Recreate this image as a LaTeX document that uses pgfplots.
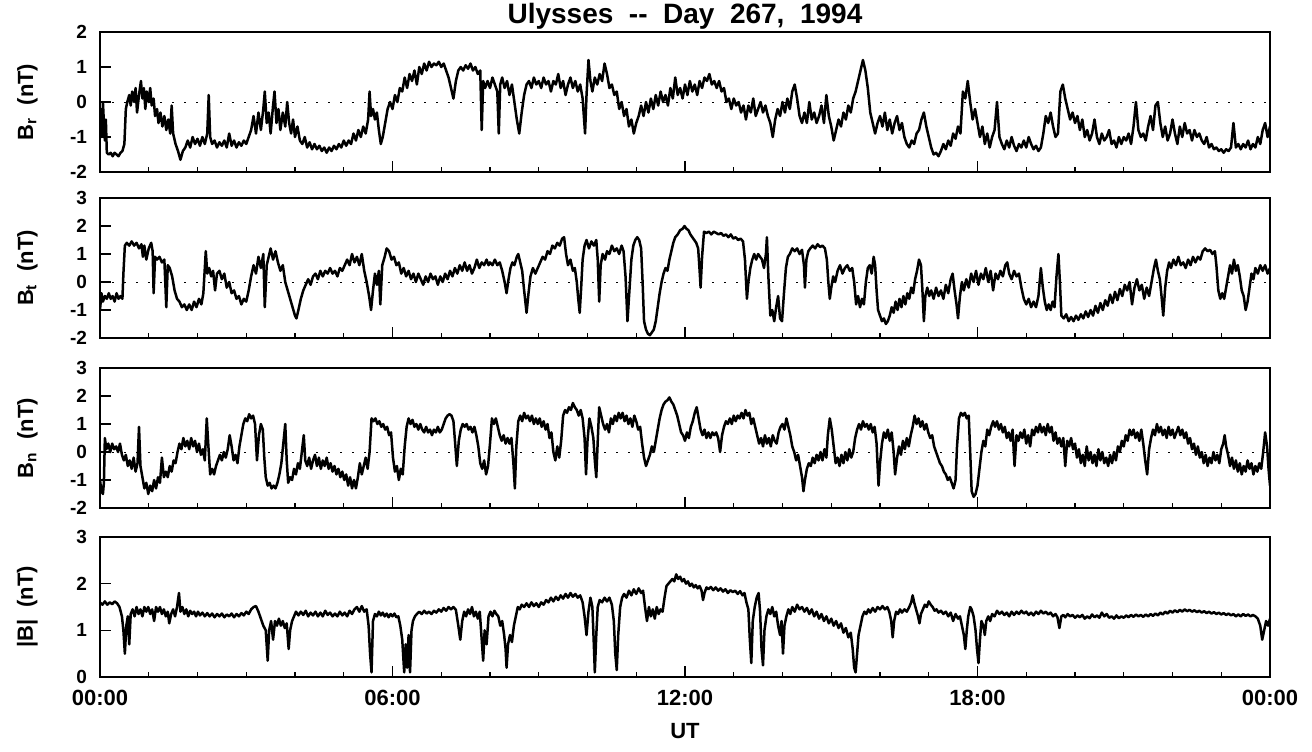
\documentclass[border=0pt]{standalone}
\usepackage{fontspec}
\setmainfont{Liberation Sans}
\usepackage{pgfplots}
\pgfplotsset{compat=1.18}

\pgfplotsset{
  panel/.style={
    scale only axis, width=585pt, height=70pt,
    xmin=0, xmax=24, xtick={0,6,12,18,24}, minor x tick num=5,
    xticklabels={}, tick align=inside, xtick pos=left, ytick pos=left,
    major tick length=5.5pt, minor tick length=2.5pt,
    axis line style={line width=1pt},
    every tick/.style={black, line width=0.7pt},
    y tick label style={font=\fontsize{9.5}{10}\selectfont\bfseries, xshift=-3pt},
    x tick label style={font=\fontsize{11}{12}\selectfont\bfseries, yshift=-3pt},
    y label style={at={(axis description cs:-0.062,0.5)}, anchor=center,
      font=\fontsize{11}{12}\selectfont\bfseries},
    clip=true,
  },
  trace/.style={black, line width=1.25pt, line join=round},
  zero/.style={black, line width=0.5pt, dash pattern=on 1.2pt off 4.8pt},
}

\begin{document}
\begin{tikzpicture}
\useasboundingbox (-50pt,16pt) rectangle (606pt,-359.5pt);

% ---- B_r ----
\begin{axis}[panel, at={(0,0)}, anchor=north west,
  ymin=-2, ymax=2, ytick={-2,-1,0,1,2}, yticklabels={-2,-1,0,1,2},
  ylabel={B\textsubscript{r}\ \ (nT)},
  title={Ulysses\ \ -{}-\ \ Day\ \ 267,\ \ 1994},
  title style={font=\fontsize{14}{15}\selectfont\bfseries, yshift=-8pt}]
\addplot[zero] coordinates {(0,0)(24,0)};
\addplot[trace] coordinates {
(0.00,-0.7)(0.02,-0.2)(0.04,-1.0)(0.06,0.0)(0.08,-0.6)(0.10,-1.1)(0.12,-0.5)(0.14,-1.45)(0.18,-1.5)(0.22,-1.45)
(0.26,-1.55)(0.30,-1.45)(0.34,-1.5)(0.38,-1.55)(0.42,-1.45)(0.46,-1.4)(0.50,-1.2)(0.53,-0.2)(0.56,0.0)(0.60,0.2)
(0.63,-0.1)(0.66,0.3)(0.70,0.0)(0.73,0.4)(0.76,-0.3)(0.80,0.2)(0.84,0.6)(0.87,0.1)(0.90,0.4)(0.93,-0.2)
(0.96,0.3)(1.00,0.0)(1.03,0.4)(1.06,-0.1)(1.10,0.1)(1.13,-0.4)(1.17,-0.2)(1.20,-0.6)(1.24,-0.3)(1.28,-0.7)
(1.32,-0.4)(1.36,-0.8)(1.40,-0.5)(1.44,-0.9)(1.47,-0.1)(1.50,-0.9)(1.55,-1.2)(1.60,-1.4)(1.65,-1.65)(1.70,-1.4)
(1.75,-1.3)(1.80,-1.1)(1.85,-1.3)(1.90,-1.0)(1.95,-1.2)(2.00,-1.05)(2.05,-1.25)(2.10,-1.0)(2.15,-1.2)(2.20,-0.9)
(2.23,0.2)(2.26,-1.0)(2.30,-1.2)(2.35,-1.1)(2.40,-1.3)(2.45,-1.15)(2.50,-1.25)(2.55,-1.1)(2.60,-1.3)(2.65,-0.9)
(2.70,-1.25)(2.75,-1.1)(2.80,-1.3)(2.85,-1.15)(2.90,-1.25)(2.95,-1.1)(3.00,-1.2)(3.05,-1.0)(3.10,-0.8)(3.15,-0.4)
(3.20,-0.9)(3.25,-0.3)(3.30,-0.8)(3.35,-0.2)(3.38,0.3)(3.42,-0.6)(3.46,-0.3)(3.50,-0.9)(3.55,-0.1)(3.58,0.3)
(3.62,-0.6)(3.66,-0.2)(3.70,-0.8)(3.75,-0.3)(3.80,-0.7)(3.84,0.0)(3.88,-0.6)(3.92,-0.9)(3.96,-0.5)(4.00,-1.0)
(4.05,-0.7)(4.10,-1.1)(4.15,-1.2)(4.20,-1.0)(4.25,-1.3)(4.30,-1.15)(4.35,-1.35)(4.40,-1.2)(4.45,-1.35)(4.50,-1.25)
(4.55,-1.4)(4.60,-1.3)(4.65,-1.45)(4.70,-1.3)(4.75,-1.4)(4.80,-1.25)(4.85,-1.35)(4.90,-1.2)(4.95,-1.3)(5.00,-1.1)
(5.05,-1.25)(5.10,-1.1)(5.15,-1.2)(5.20,-0.9)(5.25,-1.1)(5.30,-0.8)(5.35,-1.0)(5.40,-0.7)(5.45,-0.9)(5.50,-0.5)
(5.53,0.3)(5.56,-0.4)(5.60,-0.2)(5.64,-0.5)(5.68,-0.3)(5.72,-0.8)(5.76,-1.2)(5.80,-1.0)(5.85,-0.6)(5.90,-0.2)
(5.95,0.0)(6.00,-0.2)(6.05,0.2)(6.10,0.0)(6.15,0.4)(6.20,0.3)(6.25,0.7)(6.30,0.4)(6.35,0.8)(6.40,0.6)
(6.45,0.9)(6.50,0.5)(6.55,1.0)(6.60,0.8)(6.65,1.1)(6.70,0.9)(6.75,1.15)(6.80,1.0)(6.85,1.1)(6.90,1.05)
(6.95,1.15)(7.00,1.0)(7.05,1.1)(7.10,0.9)(7.15,0.7)(7.20,0.4)(7.25,0.1)(7.30,0.6)(7.35,0.9)(7.40,1.0)
(7.45,0.9)(7.50,1.05)(7.55,0.95)(7.60,1.1)(7.65,0.9)(7.70,1.0)(7.75,0.8)(7.80,0.9)(7.83,-0.8)(7.86,0.6)
(7.90,0.4)(7.95,0.6)(8.00,0.4)(8.05,0.7)(8.10,0.5)(8.15,0.3)(8.18,-0.9)(8.21,0.5)(8.25,0.7)(8.30,0.4)
(8.35,0.6)(8.40,0.2)(8.45,0.5)(8.50,0.0)(8.55,-0.5)(8.60,-0.9)(8.65,-0.3)(8.70,0.2)(8.75,0.5)(8.80,0.6)
(8.85,0.4)(8.90,0.7)(8.95,0.5)(9.00,0.6)(9.05,0.4)(9.10,0.7)(9.15,0.5)(9.20,0.6)(9.25,0.3)(9.30,0.6)
(9.35,0.5)(9.40,0.8)(9.45,0.4)(9.50,0.6)(9.55,0.2)(9.60,0.5)(9.65,0.7)(9.70,0.4)(9.75,0.6)(9.80,0.3)
(9.85,0.5)(9.90,0.1)(9.95,-0.9)(9.98,0.2)(10.02,1.2)(10.06,0.6)(10.10,0.3)(10.15,0.7)(10.20,0.5)(10.25,0.8)
(10.30,0.6)(10.35,1.1)(10.40,0.8)(10.45,0.4)(10.50,0.5)(10.55,0.2)(10.60,0.3)(10.65,-0.2)(10.70,0.0)(10.75,-0.4)
(10.80,-0.2)(10.85,-0.7)(10.90,-0.5)(10.95,-0.9)(11.00,-0.6)(11.05,-0.4)(11.10,-0.1)(11.15,-0.4)(11.20,0.0)(11.25,-0.3)
(11.30,0.1)(11.35,-0.2)(11.40,0.2)(11.45,-0.1)(11.50,0.3)(11.55,0.0)(11.60,0.2)(11.65,-0.1)(11.70,0.4)(11.75,0.1)
(11.80,0.7)(11.85,0.2)(11.90,0.4)(11.95,0.1)(12.00,0.5)(12.05,0.2)(12.10,0.6)(12.15,0.3)(12.20,0.5)(12.25,0.2)
(12.30,0.6)(12.35,0.4)(12.40,0.7)(12.45,0.6)(12.50,0.8)(12.55,0.5)(12.60,0.6)(12.65,0.4)(12.70,0.6)(12.75,0.3)
(12.80,0.4)(12.85,0.0)(12.90,0.1)(12.95,-0.2)(13.00,0.1)(13.05,-0.1)(13.10,0.0)(13.15,-0.3)(13.20,-0.1)(13.25,-0.5)
(13.30,-0.1)(13.35,-0.3)(13.40,0.1)(13.45,-0.4)(13.50,-0.2)(13.55,0.0)(13.60,-0.3)(13.65,-0.1)(13.70,-0.4)(13.75,-0.6)
(13.80,-1.0)(13.85,-0.5)(13.90,-0.2)(13.95,-0.4)(14.00,0.0)(14.05,-0.3)(14.10,0.1)(14.15,-0.2)(14.20,0.3)(14.25,0.5)
(14.30,0.1)(14.35,-0.4)(14.40,-0.6)(14.45,-0.3)(14.50,-0.6)(14.55,0.0)(14.60,-0.5)(14.65,-0.3)(14.70,-0.6)(14.75,-0.4)
(14.80,-0.1)(14.85,-0.6)(14.90,0.2)(14.95,-0.4)(15.00,-0.7)(15.05,-1.1)(15.10,-0.8)(15.15,-0.5)(15.20,-0.7)(15.25,-0.3)
(15.30,-0.5)(15.35,-0.1)(15.40,-0.3)(15.45,0.1)(15.50,0.3)(15.55,0.6)(15.60,0.9)(15.65,1.2)(15.70,0.9)(15.75,0.4)
(15.80,-0.3)(15.85,-0.6)(15.90,-0.9)(15.95,-0.6)(16.00,-0.4)(16.05,-0.7)(16.10,-0.3)(16.15,-0.8)(16.20,-0.5)(16.25,-0.9)
(16.30,-0.6)(16.35,-0.4)(16.40,-0.8)(16.45,-0.6)(16.50,-1.0)(16.55,-1.2)(16.60,-1.3)(16.65,-1.1)(16.70,-1.2)(16.75,-0.9)
(16.80,-0.8)(16.85,-0.5)(16.90,-0.3)(16.95,-0.7)(17.00,-1.0)(17.05,-1.3)(17.10,-1.5)(17.15,-1.45)(17.20,-1.55)(17.25,-1.4)
(17.30,-1.2)(17.35,-1.35)(17.40,-1.1)(17.45,-1.25)(17.50,-0.9)(17.55,-1.05)(17.60,-0.7)(17.65,-0.9)(17.70,0.3)(17.75,0.1)
(17.80,0.6)(17.85,0.0)(17.90,-0.5)(17.95,-0.2)(18.00,-0.6)(18.05,-1.0)(18.10,-0.7)(18.15,-1.2)(18.20,-0.9)(18.25,-1.3)
(18.30,-1.0)(18.35,-0.8)(18.40,0.0)(18.45,-1.0)(18.50,-1.2)(18.55,-1.35)(18.60,-1.1)(18.65,-1.3)(18.70,-1.0)(18.75,-1.25)
(18.80,-1.4)(18.85,-1.2)(18.90,-1.3)(18.95,-1.1)(19.00,-1.3)(19.05,-1.0)(19.10,-1.2)(19.15,-1.35)(19.20,-1.25)(19.25,-1.4)
(19.30,-1.3)(19.35,-0.9)(19.40,-0.4)(19.45,-0.6)(19.50,-0.3)(19.55,-0.7)(19.60,-1.0)(19.65,-0.9)(19.70,0.3)(19.75,0.5)
(19.80,0.1)(19.85,-0.2)(19.90,-0.5)(19.95,-0.3)(20.00,-0.6)(20.05,-0.4)(20.10,-0.8)(20.15,-0.5)(20.20,-1.0)(20.25,-0.8)
(20.30,-1.1)(20.35,-0.9)(20.40,-0.5)(20.45,-1.0)(20.50,-1.2)(20.55,-0.9)(20.60,-1.1)(20.65,-1.0)(20.70,-0.8)(20.75,-1.2)
(20.80,-1.1)(20.85,-1.3)(20.90,-1.0)(20.95,-1.2)(21.00,-1.0)(21.05,-1.1)(21.10,-0.9)(21.15,-1.2)(21.20,-0.7)(21.25,0.0)
(21.30,-0.8)(21.35,-1.0)(21.40,-0.9)(21.45,-1.1)(21.50,-0.7)(21.55,-0.4)(21.60,-0.8)(21.65,-0.1)(21.70,0.0)(21.75,-0.6)
(21.80,-1.0)(21.85,-0.7)(21.90,-1.1)(21.95,-0.9)(22.00,-0.5)(22.05,-0.9)(22.10,-1.2)(22.15,-0.7)(22.20,-1.0)(22.25,-0.6)
(22.30,-0.9)(22.35,-0.8)(22.40,-1.1)(22.45,-0.8)(22.50,-1.0)(22.55,-0.9)(22.60,-1.1)(22.65,-1.2)(22.70,-1.0)(22.75,-1.3)
(22.80,-1.2)(22.85,-1.35)(22.90,-1.3)(22.95,-1.4)(23.00,-1.35)(23.05,-1.45)(23.10,-1.35)(23.15,-1.4)(23.20,-1.3)(23.25,-0.6)
(23.30,-1.3)(23.35,-1.2)(23.40,-1.35)(23.45,-1.2)(23.50,-1.3)(23.55,-1.1)(23.60,-1.35)(23.65,-1.2)(23.70,-1.3)(23.75,-1.0)
(23.80,-1.2)(23.85,-0.8)(23.90,-0.6)(23.95,-1.0)(24.00,-0.7)
};
\end{axis}

% ---- B_t ----
\begin{axis}[panel, at={(0,-83pt)}, anchor=north west,
  ymin=-2, ymax=3, ytick={-2,-1,0,1,2,3}, yticklabels={-2,-1,0,1,2,3},
  ylabel={B\textsubscript{t}\ \ (nT)}]
\addplot[zero] coordinates {(0,0)(24,0)};
\addplot[trace] coordinates {
(0.00,-1.0)(0.03,-0.4)(0.06,-0.7)(0.10,-0.5)(0.14,-0.6)(0.18,-0.4)(0.22,-0.6)(0.26,-0.5)(0.30,-0.7)(0.34,-0.4)
(0.38,-0.6)(0.42,-0.5)(0.46,-0.6)(0.48,0.3)(0.51,1.3)(0.55,1.4)(0.60,1.3)(0.65,1.45)(0.70,1.3)(0.75,1.4)
(0.80,1.2)(0.85,1.35)(0.88,0.9)(0.91,1.3)(0.95,0.8)(1.00,1.2)(1.05,1.4)(1.08,1.1)(1.10,-0.4)(1.13,0.9)
(1.17,0.8)(1.22,0.9)(1.27,0.7)(1.32,0.8)(1.36,-0.9)(1.39,0.6)(1.43,0.5)(1.48,0.2)(1.53,-0.3)(1.58,-0.6)
(1.63,-0.7)(1.68,-0.9)(1.73,-0.8)(1.78,-1.0)(1.83,-0.8)(1.88,-1.0)(1.93,-0.7)(1.98,-0.9)(2.03,-0.6)(2.08,-0.8)
(2.12,-0.4)(2.17,1.1)(2.20,0.3)(2.24,0.5)(2.28,0.2)(2.32,0.4)(2.36,-0.3)(2.40,0.3)(2.45,0.4)(2.50,0.1)
(2.55,0.3)(2.60,-0.2)(2.65,0.0)(2.70,-0.4)(2.75,-0.3)(2.80,-0.6)(2.85,-0.5)(2.90,-0.8)(2.95,-0.6)(3.00,-0.7)
(3.05,-0.3)(3.10,0.2)(3.15,0.6)(3.20,0.3)(3.25,0.9)(3.30,0.5)(3.35,1.0)(3.38,-0.9)(3.42,0.6)(3.46,0.9)
(3.50,1.2)(3.55,0.8)(3.60,1.1)(3.65,0.7)(3.70,0.4)(3.75,0.6)(3.80,0.0)(3.85,-0.3)(3.90,-0.6)(3.95,-0.9)
(4.00,-1.2)(4.03,-1.3)(4.07,-1.0)(4.12,-0.6)(4.17,-0.3)(4.22,-0.1)(4.27,0.1)(4.32,-0.1)(4.37,0.2)(4.42,0.3)
(4.47,0.1)(4.52,0.4)(4.57,0.2)(4.62,0.4)(4.67,0.3)(4.72,0.5)(4.77,0.3)(4.82,0.4)(4.87,0.2)(4.92,0.5)
(4.97,0.4)(5.02,0.6)(5.07,0.8)(5.12,0.6)(5.17,1.0)(5.22,0.7)(5.27,0.9)(5.32,0.6)(5.37,1.0)(5.42,0.4)
(5.47,0.0)(5.52,-0.5)(5.56,-1.0)(5.60,-0.3)(5.64,0.3)(5.68,-0.1)(5.72,0.4)(5.75,-0.8)(5.79,0.6)(5.84,0.9)
(5.88,1.2)(5.93,1.1)(5.98,0.8)(6.03,0.9)(6.08,0.6)(6.13,0.7)(6.18,0.3)(6.23,0.5)(6.28,0.2)(6.33,0.4)
(6.38,0.1)(6.43,0.3)(6.48,0.0)(6.53,0.3)(6.58,0.1)(6.63,-0.1)(6.68,0.2)(6.73,0.0)(6.78,0.3)(6.83,0.1)
(6.88,0.2)(6.93,-0.1)(6.98,0.2)(7.03,0.0)(7.08,0.3)(7.13,0.1)(7.18,0.4)(7.23,0.2)(7.28,0.5)(7.33,0.3)
(7.38,0.6)(7.43,0.4)(7.48,0.7)(7.53,0.4)(7.58,0.6)(7.63,0.3)(7.68,0.5)(7.73,0.8)(7.78,0.5)(7.83,0.7)
(7.88,0.6)(7.93,0.8)(7.97,0.6)
(8.00,0.7)(8.05,0.6)(8.10,0.8)(8.15,0.6)(8.20,0.7)(8.25,0.4)(8.30,0.0)(8.34,-0.4)(8.38,0.1)(8.42,0.5)
(8.46,0.7)(8.50,0.6)(8.55,0.9)(8.58,1.0)(8.62,0.7)(8.66,0.4)(8.70,-0.3)(8.75,-1.1)(8.79,-0.4)(8.83,0.2)
(8.88,0.5)(8.93,0.3)(8.98,0.5)(9.03,0.7)(9.08,0.9)(9.13,0.8)(9.18,1.1)(9.23,1.0)(9.28,1.3)(9.33,1.2)
(9.38,1.4)(9.43,1.3)(9.48,1.55)(9.52,1.6)(9.56,1.0)(9.60,0.6)(9.65,0.8)(9.70,0.4)(9.74,0.5)(9.78,0.0)
(9.81,-0.6)(9.84,-1.1)(9.87,-0.2)(9.90,0.8)(9.94,1.3)(9.98,1.5)(10.03,1.2)(10.08,1.45)(10.13,1.3)(10.18,1.5)
(10.21,0.8)(10.24,-0.7)(10.27,0.6)(10.31,1.0)(10.36,0.8)(10.40,1.1)(10.45,1.0)(10.50,1.3)(10.55,1.1)(10.60,1.2)
(10.65,1.0)(10.70,1.3)(10.74,1.1)(10.78,0.2)(10.82,-1.4)(10.86,-0.3)(10.90,0.8)(10.94,1.3)(10.98,1.5)(11.02,1.6)
(11.06,1.5)(11.10,1.2)(11.13,0.0)(11.16,-1.4)(11.20,-1.7)(11.24,-1.85)(11.28,-1.9)(11.32,-1.8)(11.36,-1.7)(11.40,-1.4)
(11.44,-0.9)(11.48,-0.4)(11.52,0.0)(11.56,0.3)(11.60,0.5)(11.64,0.4)(11.68,0.8)(11.72,1.1)(11.76,1.4)(11.80,1.6)
(11.85,1.7)(11.90,1.85)(11.95,1.9)(11.99,2.0)(12.03,1.9)(12.07,1.85)(12.11,1.7)(12.15,1.6)(12.19,1.5)(12.23,1.4)
(12.27,1.2)(12.30,0.4)(12.32,-0.2)(12.35,0.9)(12.39,1.8)(12.44,1.75)(12.49,1.8)(12.54,1.7)(12.59,1.8)(12.64,1.75)
(12.69,1.7)(12.74,1.75)(12.79,1.65)(12.84,1.7)(12.89,1.6)(12.94,1.7)(12.99,1.55)(13.04,1.6)(13.09,1.5)(13.14,1.55)
(13.19,1.45)(13.23,0.8)(13.27,-0.6)(13.30,0.0)(13.34,0.5)(13.38,0.8)(13.42,1.0)(13.46,0.8)(13.50,1.0)(13.54,0.9)
(13.58,0.8)(13.62,0.5)(13.66,1.0)(13.68,1.6)(13.71,0.2)(13.75,-1.2)(13.79,-1.0)(13.83,-1.4)(13.87,-0.9)(13.91,-0.5)
(13.95,-1.3)(13.99,-1.4)(14.03,-0.4)(14.07,0.5)(14.11,0.9)(14.15,1.0)(14.20,1.2)(14.25,1.1)(14.30,1.2)(14.35,1.0)
(14.40,1.15)(14.44,0.6)(14.46,-0.2)(14.49,0.8)(14.53,1.1)(14.57,1.2)(14.62,1.3)(14.67,1.2)(14.72,1.35)(14.77,1.25)
(14.82,1.3)(14.87,1.2)(14.91,0.8)(14.94,0.0)(14.97,-0.6)(15.00,-0.2)(15.04,0.2)(15.08,0.0)(15.13,0.4)(15.18,0.6)
(15.23,0.3)(15.28,0.5)(15.33,0.6)(15.38,0.4)(15.43,0.5)(15.47,0.0)(15.51,-0.8)(15.55,-0.5)(15.59,-0.9)(15.63,-0.6)
(15.67,-0.8)(15.71,0.0)(15.75,0.5)(15.79,0.6)(15.83,0.3)(15.87,0.9)(15.90,0.6)(15.93,-0.3)(15.96,-1.0)(16.00,-1.2)
(16.04,-1.4)(16.08,-1.3)(16.12,-1.5)(16.16,-1.4)(16.20,-1.2)(16.24,-0.9)(16.28,-1.1)(16.32,-0.7)(16.36,-1.0)(16.40,-0.6)
(16.44,-0.9)(16.48,-0.5)(16.52,-0.8)(16.56,-0.4)(16.60,-0.6)(16.64,-0.2)(16.68,-0.4)(16.72,0.1)(16.76,0.4)(16.80,0.8)
(16.84,0.6)(16.87,-0.3)(16.90,-1.4)(16.93,-0.5)(16.97,-0.2)(17.01,-0.5)(17.05,-0.3)(17.10,-0.6)(17.15,-0.2)(17.20,-0.5)
(17.25,-0.3)(17.30,-0.6)(17.35,-0.1)(17.40,-0.4)(17.45,0.1)(17.49,0.3)(17.53,-0.3)(17.57,-0.8)(17.60,-1.3)(17.64,-0.5)
(17.68,0.0)(17.72,-0.3)(17.77,0.1)(17.82,-0.2)(17.87,0.3)(17.92,0.0)(17.97,0.4)(18.02,-0.1)(18.07,0.3)(18.12,0.1)
(18.17,0.5)(18.22,0.0)(18.27,0.4)(18.32,-0.3)(18.37,0.3)(18.42,0.1)(18.47,0.4)(18.52,0.2)(18.57,0.6)(18.61,0.7)
(18.65,0.3)(18.70,0.1)(18.75,0.4)(18.80,0.2)(18.85,0.3)(18.90,-0.2)(18.95,-0.6)(19.00,-0.8)(19.05,-0.6)(19.10,-0.9)
(19.15,-0.7)(19.20,-0.9)(19.25,-0.5)(19.30,0.5)(19.34,-0.2)(19.38,-0.7)(19.42,-1.0)(19.46,-0.8)(19.50,-1.0)(19.54,-0.7)
(19.58,-0.9)(19.62,0.2)(19.66,1.0)(19.69,0.0)(19.72,-1.2)(19.77,-1.3)(19.82,-1.15)(19.87,-1.4)(19.92,-1.25)(19.97,-1.4)
(20.02,-1.2)(20.07,-1.35)(20.12,-1.15)(20.17,-1.3)(20.22,-1.05)(20.27,-1.25)(20.32,-1.0)(20.37,-1.2)(20.42,-0.85)(20.47,-1.1)
(20.52,-0.75)(20.57,-1.0)(20.62,-0.65)(20.67,-0.85)(20.72,-0.45)(20.77,-0.75)(20.82,-0.35)(20.87,-0.65)(20.92,-0.25)(20.97,-0.5)
(21.02,-0.1)(21.07,-0.3)(21.12,0.0)(21.17,-0.8)(21.22,-0.2)(21.27,0.1)(21.32,-0.3)(21.37,-0.1)(21.42,-0.6)(21.47,-0.2)
(21.52,-0.5)(21.57,0.0)(21.62,0.5)(21.66,0.8)(21.70,0.4)(21.74,0.1)(21.78,-0.6)(21.81,-1.2)(21.85,-0.2)(21.89,0.4)
(21.93,0.7)(21.97,0.5)(22.02,0.8)(22.07,0.6)(22.12,0.9)(22.17,0.6)(22.22,0.7)(22.27,0.5)(22.32,0.8)(22.37,0.6)
(22.42,0.9)(22.47,0.7)(22.52,0.9)(22.57,0.8)(22.62,1.1)(22.67,1.2)(22.72,1.1)(22.77,1.15)(22.82,1.0)(22.87,1.1)
(22.90,0.6)(22.94,-0.3)(22.98,-0.6)(23.02,-0.4)(23.06,-0.6)(23.10,-0.2)(23.14,0.2)(23.18,0.6)(23.22,0.3)(23.26,0.8)
(23.30,0.4)(23.34,0.6)(23.38,0.2)(23.42,-0.3)(23.46,-0.5)(23.50,-1.0)(23.54,-0.7)(23.58,-0.2)(23.62,0.3)(23.66,0.1)
(23.70,0.5)(23.75,0.3)(23.80,0.6)(23.85,0.4)(23.90,0.6)(23.95,0.3)(24.00,0.5)
};
\end{axis}

% ---- B_n ----
\begin{axis}[panel, at={(0,-168pt)}, anchor=north west,
  ymin=-2, ymax=3, ytick={-2,-1,0,1,2,3}, yticklabels={-2,-1,0,1,2,3},
  ylabel={B\textsubscript{n}\ \ (nT)}]
\addplot[zero] coordinates {(0,0)(24,0)};
\addplot[trace] coordinates {
(0.00,-1.0)(0.03,-1.4)(0.06,-1.5)(0.08,-1.1)(0.10,0.5)(0.13,0.1)(0.17,0.3)(0.21,0.0)(0.25,0.3)(0.29,0.1)
(0.33,0.2)(0.37,0.0)(0.41,0.3)(0.45,-0.1)(0.49,-0.3)(0.53,-0.1)(0.57,-0.5)(0.61,-0.3)(0.65,-0.6)(0.69,-0.2)
(0.73,-0.7)(0.77,-0.4)(0.80,0.9)(0.83,-0.5)(0.87,-0.9)(0.91,-1.3)(0.95,-1.1)(0.99,-1.5)(1.03,-1.2)(1.07,-1.4)
(1.11,-1.0)(1.15,-1.3)(1.19,-0.9)(1.23,-1.1)(1.27,-0.2)(1.31,-0.9)(1.35,-0.7)(1.39,-0.9)(1.43,-0.5)(1.47,-0.7)
(1.51,-0.3)(1.55,-0.4)(1.59,0.0)(1.63,0.3)(1.67,0.1)(1.71,0.5)(1.75,0.2)(1.79,0.4)(1.83,0.1)(1.87,0.5)
(1.91,0.2)(1.95,0.4)(1.99,0.0)(2.03,0.3)(2.07,-0.1)(2.11,0.1)(2.15,-0.3)(2.19,1.2)(2.22,0.3)(2.26,-0.8)
(2.30,-0.6)(2.34,-0.8)(2.38,-0.5)(2.42,-0.3)(2.46,-0.1)(2.50,-0.3)(2.54,0.0)(2.58,-0.2)(2.62,0.1)(2.66,0.6)
(2.70,0.2)(2.74,-0.3)(2.78,-0.1)(2.82,-0.4)(2.86,0.2)(2.90,0.6)(2.94,1.0)(2.98,1.2)(3.02,1.1)(3.06,1.35)
(3.10,1.2)(3.14,1.3)(3.18,1.0)(3.22,-0.3)(3.26,0.6)(3.30,1.0)(3.34,0.8)(3.37,-0.2)(3.40,-0.9)(3.44,-1.2)
(3.48,-1.1)(3.52,-1.3)(3.56,-1.2)(3.60,-1.3)(3.64,-1.1)(3.68,-0.8)(3.72,-0.4)(3.76,0.3)(3.80,1.0)(3.83,-0.3)
(3.86,-1.1)(3.90,-0.9)(3.94,-1.0)(3.98,-0.6)(4.02,-0.8)(4.06,-0.4)(4.10,-0.6)(4.14,0.0)(4.18,0.6)(4.21,-0.3)
(4.25,-0.5)(4.29,-0.2)(4.33,-0.6)(4.37,-0.3)(4.41,-0.1)(4.45,-0.5)(4.49,-0.2)(4.53,-0.6)(4.57,-0.3)(4.61,-0.5)
(4.65,-0.2)(4.69,-0.6)(4.73,-0.4)(4.77,-0.7)(4.81,-0.5)(4.85,-0.8)(4.89,-0.6)(4.93,-0.9)(4.97,-0.7)(5.01,-1.0)
(5.05,-0.8)(5.09,-1.2)(5.13,-0.9)(5.17,-1.3)(5.21,-1.0)(5.25,-1.3)(5.29,-0.9)(5.33,-0.4)(5.37,-0.8)(5.41,-0.5)
(5.45,-0.2)(5.49,-0.6)(5.53,0.0)(5.57,1.2)(5.61,1.1)(5.65,1.2)(5.69,1.0)(5.73,1.1)(5.77,0.9)(5.81,1.0)
(5.85,0.8)(5.89,0.9)(5.93,0.6)(5.97,0.7)(6.01,-0.2)(6.05,-0.7)(6.09,-0.5)(6.13,-1.0)(6.17,-0.6)(6.21,-0.8)
(6.25,0.2)(6.29,0.9)(6.33,1.2)(6.37,1.0)(6.41,1.15)(6.45,0.9)(6.49,1.0)(6.53,0.8)(6.57,1.0)(6.61,0.8)
(6.65,0.7)(6.69,0.9)(6.73,0.7)(6.77,0.8)(6.81,0.6)(6.85,0.8)(6.89,0.7)(6.93,0.9)(6.97,0.7)(7.01,0.8)
(7.05,1.0)(7.09,1.2)(7.13,1.3)(7.17,1.35)(7.21,1.3)(7.25,1.1)(7.29,0.2)(7.32,-0.5)(7.36,0.4)(7.40,0.8)
(7.44,1.0)(7.48,0.9)(7.52,1.0)(7.56,0.8)(7.60,0.9)(7.64,0.7)(7.68,0.9)(7.72,0.6)(7.76,0.2)(7.80,-0.4)
(7.84,-0.6)(7.88,-0.3)(7.92,-0.8)(7.96,-0.5)(8.00,0.3)(8.04,1.2)(8.08,1.0)(8.12,1.2)(8.16,0.9)(8.20,0.6)
(8.24,0.4)(8.28,0.6)(8.32,0.3)(8.36,0.5)(8.40,0.3)(8.44,0.5)(8.48,-0.4)(8.51,-1.3)(8.54,0.2)(8.58,1.1)
(8.62,1.3)(8.66,1.1)(8.70,1.4)(8.74,1.2)(8.78,1.3)(8.82,1.1)(8.86,1.3)(8.90,1.0)(8.94,1.2)(8.98,1.0)
(9.02,1.2)(9.06,0.9)(9.10,1.1)(9.14,0.8)(9.18,1.0)(9.22,0.5)(9.26,0.7)(9.30,0.0)(9.34,-0.3)(9.38,0.2)
(9.42,-0.2)(9.46,0.4)(9.50,1.3)(9.54,1.5)(9.58,1.4)(9.62,1.6)(9.66,1.5)(9.70,1.75)(9.74,1.6)(9.78,1.5)
(9.82,1.3)(9.86,1.5)(9.90,1.2)(9.94,0.5)(9.97,-0.8)(10.00,0.4)(10.04,1.2)(10.08,0.9)(10.12,0.5)(10.15,-0.3)
(10.18,-0.9)(10.21,0.4)(10.24,1.6)(10.28,1.3)(10.32,1.0)(10.36,0.8)(10.40,1.0)(10.44,0.7)(10.48,1.2)(10.52,1.0)
(10.56,1.3)(10.60,1.1)(10.64,1.4)(10.68,1.2)(10.72,1.4)(10.76,1.1)(10.80,1.3)(10.84,1.0)(10.88,1.2)(10.92,0.9)
(10.96,1.3)(11.00,1.1)(11.04,0.8)(11.08,0.9)(11.12,0.3)(11.16,-0.2)(11.20,-0.5)(11.24,-0.3)(11.28,-0.1)(11.32,0.2)
(11.36,0.0)(11.40,0.4)(11.44,0.8)(11.48,1.2)(11.52,1.5)(11.56,1.7)(11.60,1.8)(11.64,1.85)(11.68,1.95)(11.72,1.8)
(11.76,1.7)(11.80,1.5)(11.84,1.3)(11.88,1.0)(11.92,0.7)(11.96,0.6)(12.00,0.4)(12.04,0.7)(12.08,0.5)(12.12,0.9)
(12.16,1.1)(12.20,1.4)(12.24,1.6)(12.28,1.2)(12.32,0.8)(12.36,0.6)(12.40,0.8)(12.44,0.5)(12.48,0.7)(12.52,0.5)
(12.56,0.7)(12.60,0.6)(12.64,0.7)(12.68,0.5)(12.72,0.0)(12.76,0.6)(12.80,0.9)(12.84,1.1)(12.88,1.0)(12.92,1.2)
(12.96,1.0)(13.00,1.3)(13.04,1.1)(13.08,1.3)(13.12,1.2)(13.16,1.4)(13.20,1.2)(13.24,1.5)(13.28,1.3)(13.32,1.4)
(13.36,1.0)(13.40,1.2)(13.44,0.9)(13.48,0.6)(13.52,0.3)(13.56,0.5)(13.60,0.2)(13.64,0.6)(13.68,0.3)(13.72,0.5)
(13.76,0.2)(13.80,0.6)(13.84,0.4)(13.88,0.3)(13.92,0.7)(13.96,0.9)(14.00,1.0)(14.04,0.8)(14.08,1.2)(14.12,0.9)
(14.16,0.6)(14.20,0.2)(14.24,0.0)(14.28,-0.3)(14.32,-0.1)(14.36,-0.5)(14.40,-0.9)(14.43,-1.4)(14.46,-1.0)(14.50,-0.6)
(14.54,-0.4)(14.58,-0.5)(14.62,-0.2)(14.66,-0.4)(14.70,-0.1)(14.74,-0.3)(14.78,0.0)(14.82,-0.3)(14.86,0.1)(14.90,-0.2)
(14.93,0.6)(14.97,1.2)(15.01,0.8)(15.05,0.2)(15.09,-0.4)(15.13,-0.2)(15.17,-0.5)(15.21,-0.1)(15.25,-0.4)(15.29,0.0)
(15.33,-0.3)(15.37,0.1)(15.41,-0.2)(15.45,0.0)(15.49,0.5)(15.53,0.8)(15.57,1.0)(15.61,0.8)(15.65,1.1)(15.69,0.9)
(15.73,1.0)(15.77,0.8)(15.81,1.0)(15.85,0.7)(15.89,0.9)(15.93,0.3)(15.97,-1.2)(16.00,-0.4)(16.04,0.3)(16.08,0.7)
(16.12,0.5)(16.16,0.8)(16.20,0.4)(16.24,0.7)(16.28,0.0)(16.31,-0.8)(16.35,-0.2)(16.39,0.2)(16.43,-0.1)(16.47,0.4)
(16.51,0.1)(16.55,0.5)(16.59,0.2)(16.63,0.6)(16.67,0.9)(16.71,1.3)(16.75,1.0)(16.79,1.2)(16.83,0.9)(16.87,1.1)
(16.91,0.8)(16.95,1.0)(16.99,0.7)(17.03,0.5)(17.07,0.6)(17.11,0.2)(17.15,0.0)(17.19,-0.2)(17.23,-0.4)(17.27,-0.5)
(17.31,-0.7)(17.35,-0.8)(17.39,-1.0)(17.43,-0.9)(17.47,-1.1)(17.51,-1.3)(17.55,-1.0)(17.58,0.2)(17.62,1.2)(17.66,1.4)
(17.70,1.3)(17.74,1.4)(17.78,1.2)(17.82,1.3)(17.85,0.0)(17.88,-1.4)(17.92,-1.6)(17.96,-1.5)(18.00,-1.2)(18.04,-0.6)
(18.08,0.0)(18.12,0.4)(18.16,0.2)(18.20,0.8)(18.24,0.6)(18.28,0.9)(18.32,1.1)(18.36,0.9)(18.40,1.1)(18.44,0.8)
(18.48,1.0)(18.52,0.7)(18.56,0.9)(18.60,0.5)(18.64,0.7)(18.68,0.4)(18.72,0.8)(18.76,-0.5)(18.80,0.6)(18.84,0.4)
(18.88,0.7)(18.92,0.5)(18.96,0.8)(19.00,0.3)(19.04,0.6)(19.08,0.2)(19.12,0.8)(19.16,0.6)(19.20,0.9)(19.24,0.7)
(19.28,1.0)(19.32,0.7)(19.36,0.9)(19.40,0.6)(19.44,1.0)(19.48,0.7)(19.52,0.9)(19.56,0.4)(19.60,0.7)(19.64,0.3)
(19.68,0.5)(19.72,0.2)(19.76,0.5)(19.80,-0.5)(19.84,0.4)(19.88,0.2)(19.92,0.5)(19.96,0.1)(20.00,0.3)(20.04,-0.2)
(20.08,0.1)(20.12,-0.4)(20.16,-0.1)(20.20,-0.5)(20.24,0.2)(20.28,-0.3)(20.32,0.0)(20.36,-0.4)(20.40,-0.1)(20.44,-0.5)
(20.48,0.1)(20.52,-0.3)(20.56,0.0)(20.60,-0.4)(20.64,-0.2)(20.68,-0.5)(20.72,-0.1)(20.76,-0.4)(20.80,0.0)(20.84,-0.3)
(20.88,0.2)(20.92,0.0)(20.96,0.4)(21.00,0.2)(21.04,0.6)(21.08,0.4)(21.12,0.8)(21.16,0.6)(21.20,0.8)(21.24,0.5)
(21.28,0.7)(21.32,0.4)(21.36,0.8)(21.40,0.3)(21.44,-0.3)(21.48,-0.8)(21.52,0.1)(21.56,0.5)(21.60,0.8)(21.64,0.6)
(21.68,1.0)(21.72,0.7)(21.76,0.9)(21.80,0.6)(21.84,0.8)(21.88,0.5)(21.92,0.9)(21.96,0.6)(22.00,0.8)(22.04,0.5)
(22.08,0.7)(22.12,0.9)(22.16,0.6)(22.20,0.8)(22.24,0.5)(22.28,0.7)(22.32,0.3)(22.36,0.5)(22.40,0.1)(22.44,0.3)
(22.48,-0.1)(22.52,0.2)(22.56,-0.2)(22.60,0.0)(22.64,-0.4)(22.68,-0.1)(22.72,-0.5)(22.76,-0.2)(22.80,-0.4)(22.84,0.0)
(22.88,-0.3)(22.92,-0.1)(22.96,-0.4)(23.00,0.1)(23.04,0.3)(23.07,0.6)(23.10,0.2)(23.14,-0.1)(23.18,-0.5)(23.22,-0.2)
(23.26,-0.6)(23.30,-0.3)(23.34,-0.7)(23.38,-0.4)(23.42,-0.8)(23.46,-0.5)(23.50,-0.7)(23.54,-0.3)(23.58,-0.6)(23.62,-0.4)
(23.66,-0.8)(23.70,-0.5)(23.74,-0.7)(23.78,-0.4)(23.82,-0.6)(23.86,0.0)(23.90,0.7)(23.94,0.2)(23.97,-0.6)(24.00,-1.2)
};
\end{axis}

% ---- |B| ----
\begin{axis}[panel, at={(0,-252.5pt)}, anchor=north west,
  ymin=0, ymax=3, ytick={0,1,2,3}, yticklabels={0,1,2,3},
  xticklabels={00:00,06:00,12:00,18:00,00:00},
  ylabel={|B|\ \ (nT)},
  xlabel={UT},
  x label style={font=\fontsize{11}{12}\selectfont\bfseries, yshift=-2pt}]
\addplot[trace] coordinates {
(0.00,1.6)(0.05,1.55)(0.10,1.62)(0.15,1.55)(0.20,1.6)(0.25,1.56)(0.30,1.62)(0.35,1.58)(0.40,1.5)(0.45,1.3)
(0.48,1.0)(0.51,0.5)(0.54,1.1)(0.57,1.3)(0.60,0.7)(0.63,1.35)(0.67,1.45)(0.71,1.3)(0.75,1.5)(0.79,1.35)
(0.83,1.45)(0.87,1.3)(0.91,1.5)(0.95,1.4)(0.99,1.5)(1.03,1.35)(1.07,1.45)(1.11,1.2)(1.15,1.5)(1.19,1.4)
(1.23,1.5)(1.27,1.35)(1.31,1.45)(1.35,1.3)(1.39,1.4)(1.42,1.15)(1.46,1.35)(1.50,1.45)(1.54,1.3)(1.58,1.5)
(1.62,1.8)(1.65,1.4)(1.69,1.5)(1.73,1.35)(1.77,1.45)(1.81,1.3)(1.85,1.42)(1.89,1.35)(1.93,1.4)(1.97,1.3)
(2.01,1.4)(2.05,1.32)(2.10,1.38)(2.15,1.3)(2.20,1.37)(2.25,1.3)(2.30,1.36)(2.35,1.28)(2.40,1.35)(2.45,1.3)
(2.50,1.36)(2.55,1.28)(2.60,1.34)(2.65,1.3)(2.70,1.36)(2.75,1.28)(2.80,1.35)(2.85,1.3)(2.90,1.37)(2.95,1.32)
(3.00,1.4)(3.05,1.35)(3.10,1.45)(3.15,1.5)(3.20,1.52)(3.25,1.4)(3.30,1.25)(3.35,1.1)(3.40,1.0)(3.44,0.35)
(3.47,1.0)(3.51,1.2)(3.55,0.8)(3.59,1.2)(3.63,1.1)(3.67,1.25)(3.71,1.1)(3.75,1.2)(3.79,1.05)(3.83,1.15)
(3.87,0.6)(3.90,1.0)(3.94,1.2)(3.98,1.3)(4.02,1.4)(4.07,1.32)(4.12,1.4)(4.17,1.33)(4.22,1.42)(4.27,1.3)
(4.32,1.38)(4.37,1.32)(4.42,1.4)(4.47,1.3)(4.52,1.38)(4.57,1.3)(4.62,1.42)(4.67,1.33)(4.72,1.38)(4.77,1.3)
(4.82,1.36)(4.87,1.3)(4.92,1.4)(4.97,1.32)(5.02,1.38)(5.07,1.3)(5.12,1.42)(5.17,1.35)(5.22,1.45)(5.27,1.5)
(5.32,1.4)(5.37,1.52)(5.42,1.4)(5.47,1.45)(5.51,1.1)(5.54,0.5)(5.57,0.1)(5.60,1.2)(5.64,1.35)(5.68,1.3)
(5.72,1.4)(5.76,1.32)(5.80,1.38)(5.84,1.3)(5.88,1.36)(5.92,1.28)(5.96,1.35)(6.00,1.3)(6.04,1.36)(6.08,1.28)
(6.12,1.3)(6.16,1.1)(6.20,0.8)(6.24,0.1)(6.27,0.7)(6.30,0.2)(6.33,0.9)(6.36,0.1)(6.39,1.0)(6.42,1.2)
(6.46,1.3)(6.50,1.35)(6.55,1.4)(6.60,1.35)(6.65,1.42)(6.70,1.36)(6.75,1.4)(6.80,1.35)(6.85,1.42)(6.90,1.38)
(6.95,1.45)(7.00,1.4)(7.05,1.48)(7.10,1.42)(7.15,1.5)(7.20,1.45)(7.25,1.5)(7.30,1.44)(7.35,1.1)(7.39,0.8)
(7.43,1.2)(7.47,1.4)(7.51,1.3)(7.55,1.45)(7.59,1.35)(7.63,1.5)(7.67,1.3)(7.71,1.4)(7.75,1.25)(7.79,1.4)
(7.83,0.8)(7.86,0.35)(7.89,1.0)(7.93,0.7)(7.97,1.3)(8.01,1.4)(8.05,1.3)(8.09,1.42)(8.13,1.35)(8.17,1.3)
(8.21,1.1)(8.25,1.2)(8.29,0.9)(8.32,0.6)(8.34,0.2)(8.37,0.7)(8.41,0.9)(8.45,0.75)(8.49,1.1)(8.53,1.3)
(8.57,1.5)(8.61,1.45)(8.65,1.55)(8.70,1.5)(8.75,1.58)(8.80,1.5)(8.85,1.6)(8.90,1.52)(8.95,1.58)(9.00,1.5)
(9.05,1.6)(9.10,1.55)(9.15,1.65)(9.20,1.6)(9.25,1.7)(9.30,1.62)(9.35,1.72)(9.40,1.65)(9.45,1.75)(9.50,1.68)
(9.55,1.78)(9.60,1.7)(9.65,1.8)(9.70,1.72)(9.75,1.78)(9.80,1.7)(9.85,1.75)(9.90,1.6)(9.94,1.3)(9.98,0.9)
(10.02,1.4)(10.06,1.7)(10.10,1.5)(10.13,0.7)(10.15,0.1)(10.18,0.9)(10.21,1.5)(10.25,1.65)(10.30,1.6)(10.35,1.7)
(10.40,1.62)(10.45,1.7)(10.50,1.55)(10.54,1.2)(10.57,0.5)(10.60,0.15)(10.63,0.9)(10.67,1.5)(10.71,1.7)(10.75,1.78)
(10.80,1.7)(10.85,1.85)(10.90,1.75)(10.95,1.88)(11.00,1.78)(11.05,1.9)(11.10,1.8)(11.14,1.85)(11.18,1.5)(11.22,1.2)
(11.26,1.5)(11.30,1.3)(11.34,1.45)(11.38,1.25)(11.42,1.5)(11.46,1.35)(11.50,1.45)(11.54,1.4)(11.58,1.7)(11.62,1.95)
(11.66,2.0)(11.70,2.05)(11.74,2.1)(11.78,2.05)(11.82,2.2)(11.86,2.1)(11.90,2.15)(11.94,2.05)(11.98,2.1)(12.02,2.0)
(12.06,2.05)(12.10,1.95)(12.14,2.0)(12.18,1.92)(12.22,1.97)(12.26,1.9)(12.30,1.95)(12.34,1.85)(12.37,1.65)(12.40,1.8)
(12.44,1.92)(12.48,1.88)(12.53,1.93)(12.58,1.86)(12.63,1.92)(12.68,1.85)(12.73,1.9)(12.78,1.83)(12.83,1.88)(12.88,1.8)
(12.93,1.86)(12.98,1.82)(13.03,1.85)(13.08,1.78)(13.13,1.84)(13.18,1.75)(13.22,1.8)(13.26,1.6)(13.30,1.45)(13.33,0.8)
(13.36,0.3)(13.39,1.2)(13.43,1.5)(13.47,1.7)(13.51,1.8)(13.54,1.4)(13.57,0.6)(13.60,0.25)(13.63,1.0)(13.67,1.3)
(13.71,1.45)(13.75,1.35)(13.79,1.5)(13.83,1.3)(13.87,1.4)(13.91,1.1)(13.95,0.9)(13.98,1.2)(14.01,0.5)(14.04,1.1)
(14.08,1.3)(14.12,1.45)(14.16,1.35)(14.20,1.5)(14.25,1.4)(14.30,1.55)(14.35,1.45)(14.40,1.5)(14.45,1.4)(14.50,1.48)
(14.55,1.35)(14.60,1.45)(14.65,1.3)(14.70,1.4)(14.75,1.25)(14.80,1.35)(14.85,1.2)(14.90,1.3)(14.95,1.15)(15.00,1.25)
(15.05,1.1)(15.10,1.2)(15.15,1.05)(15.20,1.15)(15.25,0.95)(15.30,1.05)(15.35,0.85)(15.40,0.95)(15.44,0.6)(15.47,0.2)
(15.50,0.1)(15.53,0.5)(15.56,0.9)(15.60,1.1)(15.64,1.3)(15.68,1.4)(15.72,1.35)(15.76,1.45)(15.80,1.38)(15.85,1.48)
(15.90,1.4)(15.95,1.5)(16.00,1.45)(16.05,1.52)(16.10,1.45)(16.15,1.5)(16.19,1.4)(16.23,1.2)(16.26,0.85)(16.29,1.2)
(16.33,1.4)(16.37,1.35)(16.41,1.45)(16.45,1.38)(16.50,1.45)(16.55,1.4)(16.60,1.5)(16.64,1.6)(16.67,1.75)(16.70,1.6)
(16.74,1.45)(16.78,1.3)(16.81,1.15)(16.84,1.35)(16.88,1.45)(16.92,1.55)(16.96,1.5)(17.00,1.62)(17.04,1.55)(17.08,1.5)
(17.12,1.42)(17.16,1.45)(17.20,1.38)(17.25,1.42)(17.30,1.35)(17.35,1.4)(17.40,1.3)(17.45,1.38)(17.50,1.2)(17.55,1.35)
(17.60,1.25)(17.64,1.3)(17.68,1.1)(17.72,0.9)(17.75,0.6)(17.78,1.0)(17.81,1.3)(17.85,1.5)(17.88,1.45)(17.92,1.3)
(17.96,1.0)(17.99,0.6)(18.02,0.3)(18.05,0.8)(18.08,1.2)(18.12,1.1)(18.15,0.9)(18.18,1.2)(18.22,1.3)(18.26,1.2)
(18.30,1.35)(18.35,1.3)(18.40,1.42)(18.45,1.35)(18.50,1.4)(18.55,1.33)(18.60,1.38)(18.65,1.3)(18.70,1.4)(18.75,1.33)
(18.80,1.4)(18.85,1.35)(18.90,1.42)(18.95,1.36)(19.00,1.4)(19.05,1.33)(19.10,1.38)(19.15,1.32)(19.20,1.4)(19.25,1.35)
(19.30,1.42)(19.35,1.36)(19.40,1.4)(19.45,1.34)(19.50,1.38)(19.55,1.3)(19.60,1.35)(19.64,1.28)(19.68,1.05)(19.72,1.3)
(19.76,1.33)(19.80,1.28)(19.85,1.35)(19.90,1.3)(19.95,1.33)(20.00,1.27)(20.05,1.32)(20.10,1.28)(20.15,1.33)(20.20,1.25)
(20.25,1.3)(20.30,1.26)(20.35,1.34)(20.40,1.28)(20.45,1.32)(20.50,1.27)(20.55,1.38)(20.60,1.3)(20.65,1.35)(20.70,1.27)
(20.75,1.3)(20.80,1.25)(20.85,1.32)(20.90,1.26)(20.95,1.3)(21.00,1.27)(21.05,1.32)(21.10,1.28)(21.15,1.33)(21.20,1.29)
(21.25,1.34)(21.30,1.3)(21.35,1.33)(21.40,1.29)(21.45,1.34)(21.50,1.3)(21.55,1.35)(21.60,1.31)(21.65,1.36)(21.70,1.32)
(21.75,1.38)(21.80,1.34)(21.85,1.4)(21.90,1.36)(21.95,1.42)(22.00,1.38)(22.05,1.43)(22.10,1.39)(22.15,1.44)(22.20,1.4)
(22.25,1.45)(22.30,1.41)(22.35,1.44)(22.40,1.4)(22.45,1.43)(22.50,1.39)(22.55,1.42)(22.60,1.38)(22.65,1.41)(22.70,1.37)
(22.75,1.4)(22.80,1.36)(22.85,1.39)(22.90,1.35)(22.95,1.38)(23.00,1.34)(23.05,1.37)(23.10,1.33)(23.15,1.36)(23.20,1.32)
(23.25,1.35)(23.30,1.3)(23.35,1.34)(23.40,1.3)(23.45,1.35)(23.50,1.31)(23.55,1.34)(23.60,1.3)(23.65,1.33)(23.70,1.3)
(23.75,1.25)(23.80,1.1)(23.84,0.8)(23.88,1.0)(23.92,1.2)(23.96,1.1)(24.00,1.25)
};
\end{axis}
\end{tikzpicture}
\end{document}
